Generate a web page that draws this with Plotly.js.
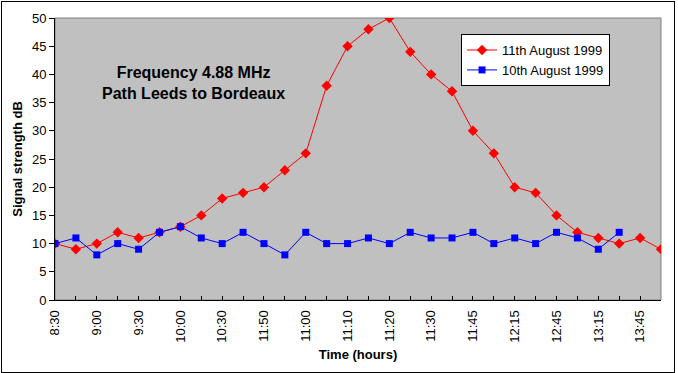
<!DOCTYPE html>
<html>
<head>
<meta charset="utf-8">
<script src="https://cdn.plot.ly/plotly-3.0.1.min.js"></script>
<style>
html,body{margin:0;padding:0;background:#fff;}
#wrap{position:relative;width:678px;height:373px;}
#chart{width:678px;height:373px;}
#frame{position:absolute;left:1px;top:1px;width:674px;height:372px;box-sizing:border-box;border:1px solid #000;pointer-events:none;}
</style>
</head>
<body>
<div id="wrap"><div id="chart"></div><div id="frame"></div></div>
<script>
// Tick labels shown under every second category (index 0,2,4,...)
const tickLabels = ["8:30","9:00","9:30","10:00","10:30","11:50","11:00","11:10","11:20","11:30","11:45","12:15","12:45","13:15","13:45"];
const categoryCount = 30;
// Signal strength (dB) by category index
const aug11 = [10,9,10,12,11,12,13,15,18,19,20,23,26,38,45,48,50,44,40,37,30,26,20,19,15,12,11,10,11,9];
const aug10 = [10,11,8,10,9,12,13,11,10,12,10,8,12,10,10,11,10,12,11,11,12,10,11,10,12,11,9,12];
const seriesNames = ["11th August 1999","10th August 1999"];

const idx = n => Array.from({length:n},(_,i)=>i);
const tickvals = idx(categoryCount);
const ticktext = tickvals.map(i => (i % 2 === 0 && tickLabels[i/2] !== undefined) ? tickLabels[i/2] : "");

const FONT = "Liberation Sans, Arial, sans-serif";

const traces = [
  {x: idx(aug11.length), y: aug11, name: seriesNames[0], type:"scatter", mode:"lines+markers",
   line:{color:"#FF0000", width:1}, marker:{symbol:"diamond", size:8, color:"#FF0000"}},
  {x: idx(aug10.length), y: aug10, name: seriesNames[1], type:"scatter", mode:"lines+markers",
   line:{color:"#0000FF", width:1}, marker:{symbol:"square", size:7, color:"#0000FF"}}
];

const layout = {
  width:678, height:373,
  margin:{l:55, r:17, t:18, b:73, pad:0},
  paper_bgcolor:"#FFFFFF", plot_bgcolor:"#C0C0C0",
  font:{family:FONT, size:13, color:"#000"},
  showlegend:true,
  legend:{x:0.67, y:0.943, xanchor:"left", yanchor:"top", bgcolor:"#FFFFFF",
          bordercolor:"#000", borderwidth:1, font:{family:FONT, size:13, color:"#000"},
          tracegroupgap:0, itemwidth:30},
  xaxis:{range:[0, categoryCount-1], tickvals:tickvals, ticktext:ticktext, tickangle:-90,
         ticks:"inside", ticklen:4, tickcolor:"#000", showgrid:false, zeroline:false,
         showline:true, linecolor:"#000", linewidth:1, ticklabelstandoff:4,
         tickfont:{family:FONT, size:13, color:"#000"},
         title:{text:"<b>Time (hours)</b>", font:{family:FONT, size:13, color:"#000"}, standoff:8}},
  yaxis:{range:[0,50], dtick:5, tick0:0, ticks:"outside", ticklen:5, tickcolor:"#000",
         showgrid:false, zeroline:false, showline:true, linecolor:"#000", linewidth:1,
         tickfont:{family:FONT, size:13, color:"#000"},
         title:{text:"<b>Signal strength dB</b>", font:{family:FONT, size:13, color:"#000"}, standoff:6}},
  shapes:[{type:"rect", xref:"paper", yref:"paper", x0:0, x1:1, y0:0, y1:1,
           line:{color:"#808080", width:1}, fillcolor:"rgba(0,0,0,0)", layer:"below"}],
  annotations:[{xref:"paper", yref:"paper", x:0.229, y:0.77, xanchor:"center", yanchor:"middle",
                showarrow:false, align:"center",
                text:"<b>Frequency 4.88 MHz<br>Path Leeds to Bordeaux</b>",
                font:{family:FONT, size:16, color:"#000"}}]
};

Plotly.newPlot("chart", traces, layout, {displayModeBar:false, staticPlot:true});
</script>
</body>
</html>
